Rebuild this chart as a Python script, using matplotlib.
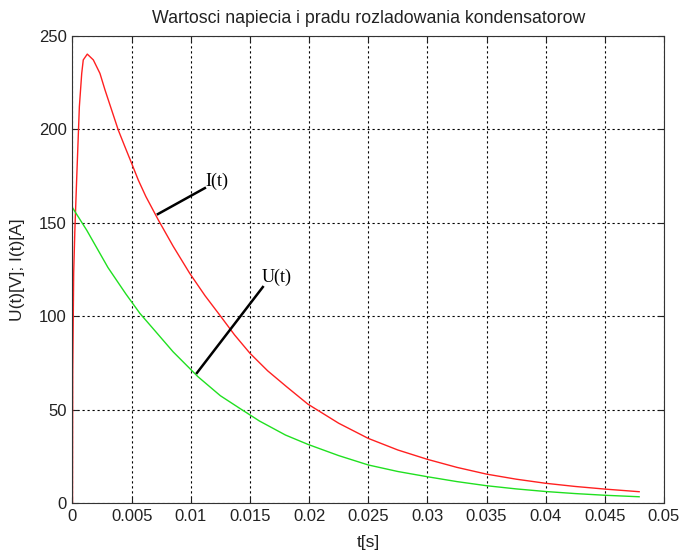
import matplotlib
matplotlib.use("Agg")
import matplotlib.pyplot as plt

plt.rcParams['font.family'] = ['Liberation Sans', 'DejaVu Sans']

# Current I(t) [A]
t_i = [0.0, 0.00002, 0.0001, 0.0002, 0.00035, 0.00058, 0.00078, 0.00091, 0.00125,
       0.00176, 0.00232, 0.00275, 0.00331, 0.00387, 0.00443, 0.0050, 0.00556,
       0.00620, 0.00725, 0.0085, 0.0099, 0.0112, 0.0124, 0.0137, 0.0150,
       0.0165, 0.0181, 0.0199, 0.0225, 0.0250, 0.0275, 0.0300, 0.0325, 0.0350,
       0.0375, 0.0400, 0.0425, 0.0450, 0.0479]
i_vals = [0.0, 70.0, 123.0, 146.0, 172.8, 212.0, 229.8, 237.0, 240.1,
          237.0, 229.8, 220.9, 210.2, 199.5, 190.6, 181.7, 172.8,
          164.0, 151.5, 137.5, 123.0, 111.0, 101.0, 90.0, 80.2,
          70.8, 62.3, 53.0, 42.8, 34.7, 28.5, 23.5, 19.2, 15.6,
          12.9, 10.7, 9.0, 7.6, 6.2]

# Voltage U(t) [V]
t_u = [0.0, 0.0012, 0.0030, 0.0045, 0.0057, 0.0070, 0.0085, 0.0106, 0.0125,
       0.0142, 0.0158, 0.0180, 0.0199, 0.0225, 0.0250, 0.0275, 0.0300, 0.0325,
       0.0350, 0.0375, 0.0400, 0.0425, 0.0450, 0.0479]
u_vals = [158.0, 146.0, 126.0, 112.0, 101.5, 92.0, 81.0, 67.7, 57.5,
          50.5, 44.0, 36.5, 31.5, 25.5, 20.5, 17.0, 14.2, 11.6,
          9.4, 7.7, 6.3, 5.2, 4.3, 3.5]

x_ticks = [0, 0.005, 0.01, 0.015, 0.02, 0.025, 0.03, 0.035, 0.04, 0.045, 0.05]
x_tick_labels = ['0', '0.005', '0.01', '0.015', '0.02', '0.025', '0.03', '0.035', '0.04', '0.045', '0.05']
y_ticks = [0, 50, 100, 150, 200, 250]

title = 'Wartosci napiecia i pradu rozladowania kondensatorow'

fig = plt.figure(figsize=(6.82, 5.5), dpi=100)
ax = fig.add_axes([0.1063, 0.0849, 0.9736 - 0.1063, 0.9353 - 0.0849])

ax.plot(t_i, i_vals, color='#ff2020', lw=1.0)
ax.plot(t_u, u_vals, color='#20e020', lw=1.0)

ax.set_xlim(0, 0.05)
ax.set_ylim(0, 250)
ax.set_xticks(x_ticks)
ax.set_xticklabels(x_tick_labels)
ax.set_yticks(y_ticks)
ax.tick_params(direction='in', top=True, right=True, labelsize=12, length=4, width=0.8,
               colors='#222222', pad=4)
ax.grid(True, color='black', linestyle=(0, (2, 2.5)), lw=0.8)
for s in ax.spines.values():
    s.set_linewidth(0.8)
    s.set_color('#333333')

ax.set_title(title, fontsize=12.8, pad=9, color='#222222')
ax.set_xlabel('t[s]', fontsize=12.5, labelpad=8, color='#222222')
ax.set_ylabel('U(t)[V]; I(t)[A]', fontsize=12.5, labelpad=10, color='#222222')

# annotations
ax.plot([0.00722, 0.01119], [154.6, 168.5], color='black', lw=1.8)
ax.text(0.0112, 172, 'I(t)', family='Liberation Serif', fontsize=13, va='center', ha='left')
ax.plot([0.01052, 0.01609], [69.7, 115.6], color='black', lw=1.8)
ax.text(0.0160, 121, 'U(t)', family='Liberation Serif', fontsize=13, va='center', ha='left')

fig.savefig('out.png', dpi=100)
